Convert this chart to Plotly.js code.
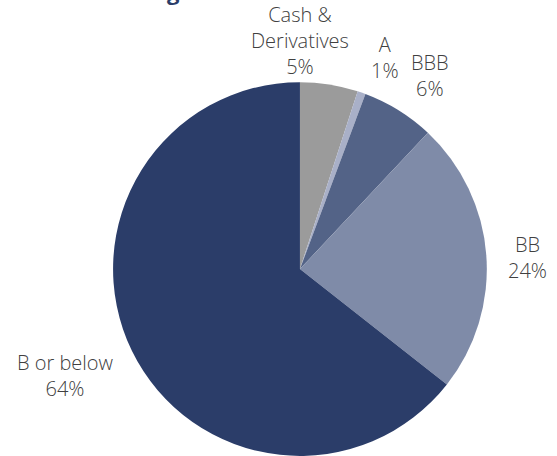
<!DOCTYPE html>
<html>
<head>
<meta charset="utf-8">
<script src="https://cdn.plot.ly/plotly-3.0.1.min.js"></script>
<style>html,body{margin:0;padding:0;background:#fff;}#chart{width:557px;height:456px;}</style>
</head>
<body>
<div id="chart"></div>
<script>
const labels = ["Cash &<br>Derivatives", "A", "BBB", "BB", "B or below"];
const values = [5.0, 0.7, 6.3, 23.6, 64.4];
const colors = ["#9b9b9b", "#a9b0c8", "#536387", "#7f8ba8", "#2b3d69"];

// label placement (pixel centres of each text block), styling only
const labelPos = [[300, 40], [385, 57], [430, 76], [527, 257], [65, 375]];

const W = 557, H = 456;
const total = values.reduce((a, b) => a + b, 0);

const trace = {
  type: "pie",
  labels: labels,
  values: values,
  sort: false,
  direction: "clockwise",
  rotation: 0,
  marker: {colors: colors, line: {width: 0}},
  textinfo: "none",
  hoverinfo: "none",
  domain: {x: [0.203, 0.874], y: [0, 0.82]},
  automargin: false
};

const annotations = labels.map((lab, i) => ({
  xref: "paper", yref: "paper",
  x: labelPos[i][0] / W, y: 1 - labelPos[i][1] / H,
  xanchor: "center", yanchor: "middle",
  align: "center",
  showarrow: false,
  text: lab + "<br>" + Math.round(values[i] / total * 100) + "%",
  font: {family: "Open Sans", size: 20, color: "#404040", weight: 300}
}));

const layout = {
  width: W, height: H,
  margin: {l: 0, r: 0, t: 0, b: 0},
  showlegend: false,
  paper_bgcolor: "#ffffff",
  annotations: annotations,
  title: {
    text: "<b>Rating</b>",
    font: {family: "Open Sans", size: 22, color: "#2b3d69"},
    xref: "paper", x: 0.322, xanchor: "right",
    yref: "container", y: 1.072, yanchor: "bottom"
  }
};

Plotly.newPlot("chart", [trace], layout, {staticPlot: true});
</script>
</body>
</html>
